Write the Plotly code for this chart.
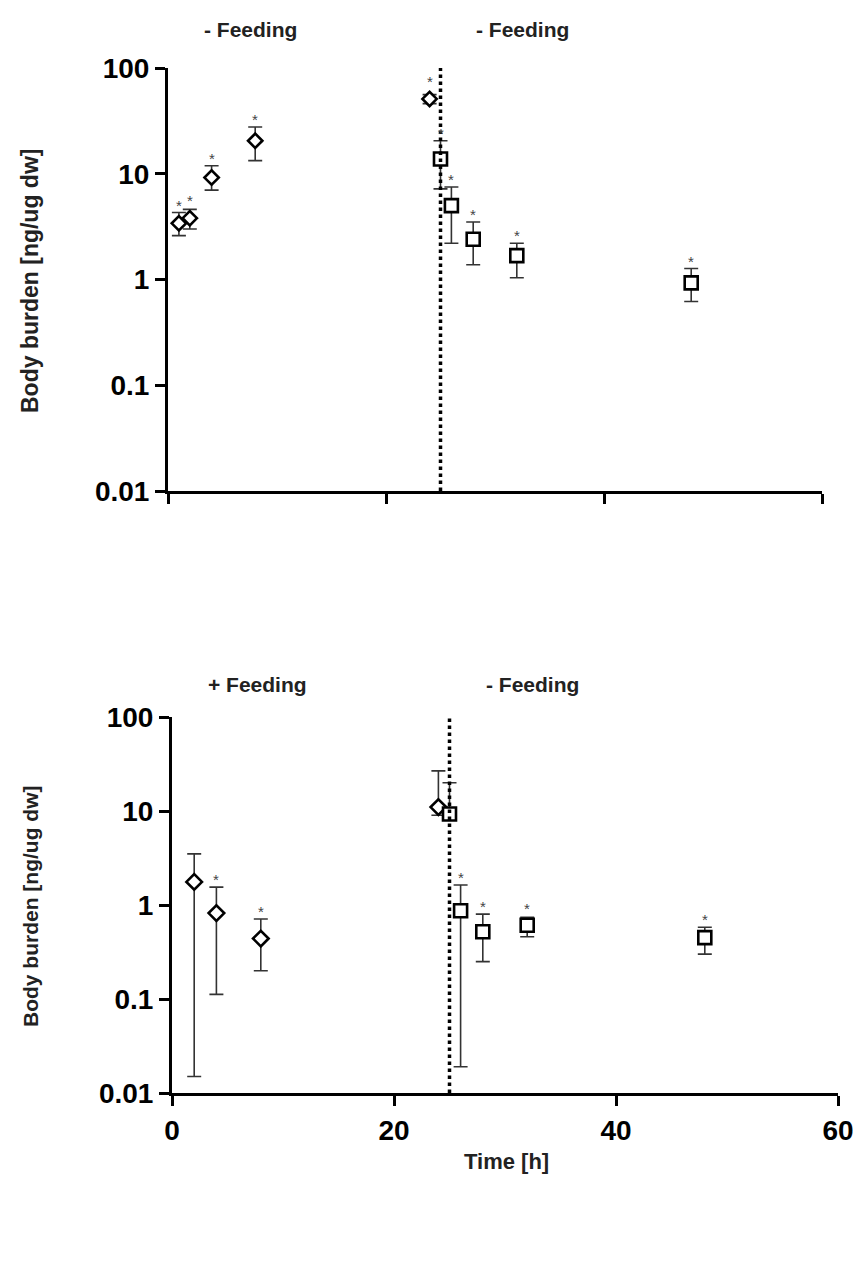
import math
import plotly.graph_objects as go

# ---------------- data ----------------
# Top panel (- Feeding / - Feeding)
top_dia_x = [1, 2, 4, 8, 24]
top_dia_y = [3.4, 3.8, 9.2, 20.5, 51]
top_dia_up = [4.3, 4.6, 11.9, 27.7, 56]
top_dia_lo = [2.6, 3.0, 7.0, 13.3, 46]
top_dia_sig = [1, 1, 1, 1, 1]

top_sq_x = [25, 26, 28, 32, 48]
top_sq_y = [13.8, 5.0, 2.4, 1.68, 0.93]
top_sq_up = [20.5, 7.5, 3.5, 2.2, 1.27]
top_sq_lo = [7.2, 2.2, 1.38, 1.04, 0.62]
top_sq_sig = [1, 1, 1, 1, 1]

# Bottom panel (+ Feeding / - Feeding)
bot_dia_x = [2, 4, 8, 24]
bot_dia_y = [1.76, 0.82, 0.44, 11]
bot_dia_up = [3.5, 1.55, 0.71, 26.7]
bot_dia_lo = [0.015, 0.112, 0.2, 9.0]
bot_dia_sig = [0, 1, 1, 0]

bot_sq_x = [25, 26, 28, 32, 48]
bot_sq_y = [9.3, 0.87, 0.52, 0.61, 0.45]
bot_sq_up = [20, 1.63, 0.8, 0.74, 0.58]
bot_sq_lo = [8.0, 0.019, 0.25, 0.46, 0.3]
bot_sq_sig = [0, 1, 1, 1, 1]

feeding_switch = 25
x_ticks = [0, 20, 40, 60]
y_ticks = [0.01, 0.1, 1, 10, 100]
y_tick_text = ["0.01", "0.1", "1", "10", "100"]

top_labels = ["- Feeding", "- Feeding"]
bot_labels = ["+ Feeding", "- Feeding"]
y_title = "Body burden [ng/ug dw]"
x_title = "Time [h]"

# ---------------- layout helpers ----------------
PAGE_W, PAGE_H = 861, 1275
OFF = 8  # default page body margin
W, H = PAGE_W - 2 * OFF, PAGE_H - 2 * OFF
FONT = "Liberation Sans, Arial, sans-serif"


def px_x(p):
    return (p - OFF) / W


def px_y(p):
    return 1 - (p - OFF) / H


fig = go.Figure()


def add_series(xs, ys, up, lo, symbol, size, xa, ya):
    fig.add_trace(go.Scatter(
        x=xs, y=ys, mode="markers",
        marker=dict(symbol=symbol, size=size, color="white",
                    line=dict(color="black", width=2.6)),
        error_y=dict(type="data", symmetric=False,
                     array=[u - y for u, y in zip(up, ys)],
                     arrayminus=[y - l for y, l in zip(ys, lo)],
                     color="#333333", thickness=1.6, width=7),
        xaxis=xa, yaxis=ya, showlegend=False, cliponaxis=False,
    ))


add_series(top_dia_x, top_dia_y, top_dia_up, top_dia_lo, "diamond", 11, "x", "y")
add_series(top_sq_x, top_sq_y, top_sq_up, top_sq_lo, "square", 13, "x", "y")
add_series(bot_dia_x, bot_dia_y, bot_dia_up, bot_dia_lo, "diamond", 12, "x2", "y2")
add_series(bot_sq_x, bot_sq_y, bot_sq_up, bot_sq_lo, "square", 13, "x2", "y2")

annotations = []


def add_stars(xs, ys, up, sig, xr, yr):
    # annotation positions on a log axis are given in log10 units
    for x, y, u, s in zip(xs, ys, up, sig):
        if s:
            annotations.append(dict(
                x=x, y=math.log10(max(u, y * 1.25)), xref=xr, yref=yr, text="*",
                showarrow=False, xanchor="center", yanchor="bottom", yshift=-3,
                font=dict(family=FONT, size=15, color="#444444"),
            ))


add_stars(top_dia_x, top_dia_y, top_dia_up, top_dia_sig, "x", "y")
add_stars(top_sq_x, top_sq_y, top_sq_up, top_sq_sig, "x", "y")
add_stars(bot_dia_x, bot_dia_y, bot_dia_up, bot_dia_sig, "x2", "y2")
add_stars(bot_sq_x, bot_sq_y, bot_sq_up, bot_sq_sig, "x2", "y2")


def paper_text(txt, cx, cy, size, angle=0):
    annotations.append(dict(x=px_x(cx), y=px_y(cy), xref="paper", yref="paper",
                            text=txt, showarrow=False, textangle=angle,
                            xanchor="center", yanchor="middle",
                            font=dict(family=FONT, size=size, color="#222222",
                                      weight="bold")))


for txt, cx in zip(top_labels, [250, 522]):
    paper_text(txt, cx, 30, 21)
for txt, cx in zip(bot_labels, [257, 532]):
    paper_text(txt, cx, 684, 21)

paper_text(y_title, 30, 281, 23, -90)
paper_text(y_title, 30, 907, 21, -90)
paper_text(x_title, 506, 1161, 22)

shapes = []
for xr, yr in [("x", "y"), ("x2", "y2")]:
    shapes.append(dict(type="line", xref=xr, yref=yr,
                       x0=feeding_switch, x1=feeding_switch,
                       y0=min(y_ticks), y1=max(y_ticks),
                       line=dict(color="black", width=3.5, dash="dot")))

tick_font = dict(family=FONT, size=28, color="black", weight="bold")

common_x = dict(range=[0, 60], tickvals=x_ticks, ticks="outside", ticklen=10,
                tickwidth=3, tickcolor="black", showline=True, linewidth=3,
                linecolor="black", showgrid=False, zeroline=False,
                tickfont=tick_font, automargin=False, ticklabeloverflow="allow")
common_y = dict(type="log", range=[-2, 2], tickvals=y_ticks, ticktext=y_tick_text,
                ticks="outside", ticklen=10, tickwidth=3, tickcolor="black",
                showline=True, linewidth=3, linecolor="black", showgrid=False,
                zeroline=False, tickfont=tick_font, automargin=False,
                ticklabeloverflow="allow")

fig.update_layout(
    width=W, height=H,
    margin=dict(l=0, r=0, t=0, b=0, autoexpand=False),
    paper_bgcolor="white", plot_bgcolor="white",
    xaxis=dict(common_x, domain=[px_x(168), px_x(822)], anchor="y",
               showticklabels=False),
    yaxis=dict(common_y, domain=[px_y(491), px_y(68)], anchor="x"),
    xaxis2=dict(common_x, domain=[px_x(172), px_x(838)], anchor="y2"),
    yaxis2=dict(common_y, domain=[px_y(1093), px_y(717)], anchor="x2"),
    annotations=annotations,
    shapes=shapes,
    showlegend=False,
)

fig.write_html("out.html")
